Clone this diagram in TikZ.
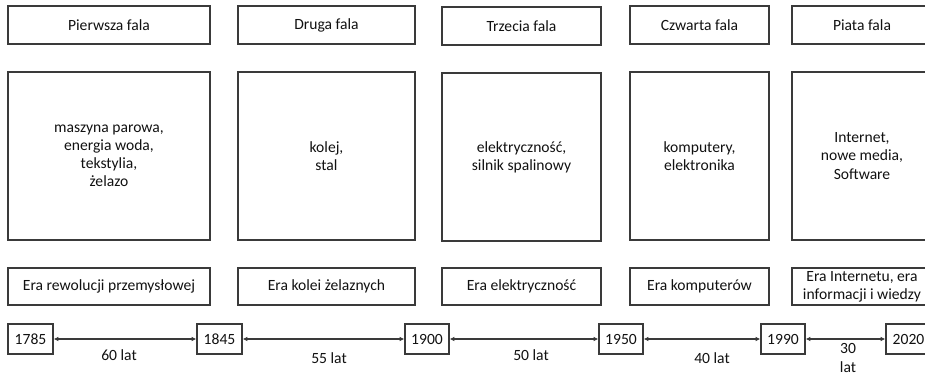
\documentclass[tikz,border=0pt]{standalone}
\usepackage{fontspec}
\setmainfont{Carlito}
\usetikzlibrary{arrows.meta}
\definecolor{ln}{HTML}{3A3A3A}
\definecolor{tx}{HTML}{111111}
\begin{document}
\begin{tikzpicture}[x=0.75pt,y=-0.75pt,
  font=\fontsize{11.7}{13.6}\selectfont, text=tx,
  box/.style={draw=ln,line width=1pt,align=center,inner sep=0pt},
  conn/.style={draw=ln,line width=0.8pt,{Latex[length=3.5pt,width=3.5pt]}-{Latex[length=3.5pt,width=3.5pt]}},
  lbl/.style={inner sep=0pt,align=center}]
\useasboundingbox (0,0) rectangle (925,375);
\clip (0,0) rectangle (925,375);
% top boxes
\node[box,minimum width=202*0.75pt,minimum height=38*0.75pt] (t1) at (109,25) {Pierwsza fala};
\node[box,minimum width=177*0.75pt,minimum height=38*0.75pt] (t2) at (326.5,25) {Druga fala};
\node[box,minimum width=159*0.75pt,minimum height=38*0.75pt] (t3) at (521.5,26) {Trzecia fala};
\node[box,minimum width=139*0.75pt,minimum height=38*0.75pt] (t4) at (699.5,25) {Czwarta fala};
\node[box,minimum width=140*0.75pt,minimum height=38*0.75pt] (t5) at (862,25) {Piata fala};
% middle boxes
\node[box,minimum width=202*0.75pt,minimum height=168*0.75pt] (m1) at (109,156) {maszyna parowa,\\energia woda,\\tekstylia,\\żelazo};
\node[box,minimum width=177*0.75pt,minimum height=168*0.75pt] (m2) at (326.5,156) {kolej,\\stal};
\node[box,minimum width=159*0.75pt,minimum height=168*0.75pt] (m3) at (521.5,157) {elektryczność,\\silnik spalinowy};
\node[box,minimum width=139*0.75pt,minimum height=168*0.75pt] (m4) at (699.5,156) {komputery,\\elektronika};
\node[box,minimum width=140*0.75pt,minimum height=168*0.75pt] (m5) at (862,156) {Internet,\\nowe media,\\Software};
% bottom boxes
\node[box,minimum width=202*0.75pt,minimum height=37*0.75pt] (b1) at (109,286.5) {Era rewolucji przemysłowej};
\node[box,minimum width=177*0.75pt,minimum height=37*0.75pt] (b2) at (326.5,286.5) {Era kolei żelaznych};
\node[box,minimum width=159*0.75pt,minimum height=37*0.75pt] (b3) at (521.5,286.5) {Era elektryczność};
\node[box,minimum width=139*0.75pt,minimum height=37*0.75pt] (b4) at (699.5,286.5) {Era komputerów};
\node[box,minimum width=140*0.75pt,minimum height=37*0.75pt] (b5) at (862,286.5) {Era Internetu, era\\informacji i wiedzy};
% year boxes
\node[box,minimum width=45*0.75pt,minimum height=30*0.75pt] (y1) at (30.5,339) {1785};
\node[box,minimum width=45*0.75pt,minimum height=30*0.75pt] (y2) at (219.5,339) {1845};
\node[box,minimum width=44*0.75pt,minimum height=30*0.75pt] (y3) at (427,339) {1900};
\node[box,minimum width=44*0.75pt,minimum height=30*0.75pt] (y4) at (621,339) {1950};
\node[box,minimum width=44*0.75pt,minimum height=30*0.75pt] (y5) at (783,339) {1990};
\node[box,minimum width=45*0.75pt,minimum height=30*0.75pt] (y6) at (908.5,339) {2020};
% connectors
\draw[conn] (y1.east) -- (y2.west);
\draw[conn] (y2.east) -- (y3.west);
\draw[conn] (y3.east) -- (y4.west);
\draw[conn] (y4.east) -- (y5.west);
\draw[conn] (y5.east) -- (y6.west);
% labels
\node[lbl] (l1) at (119,355) {60 lat};
\node[lbl] (l2) at (329,358) {55 lat};
\node[lbl] (l3) at (531,355) {50 lat};
\node[lbl] (l4) at (712,358) {40 lat};
\node[lbl] (l5) at (848,358) {30\\lat};
\end{tikzpicture}
\end{document}
